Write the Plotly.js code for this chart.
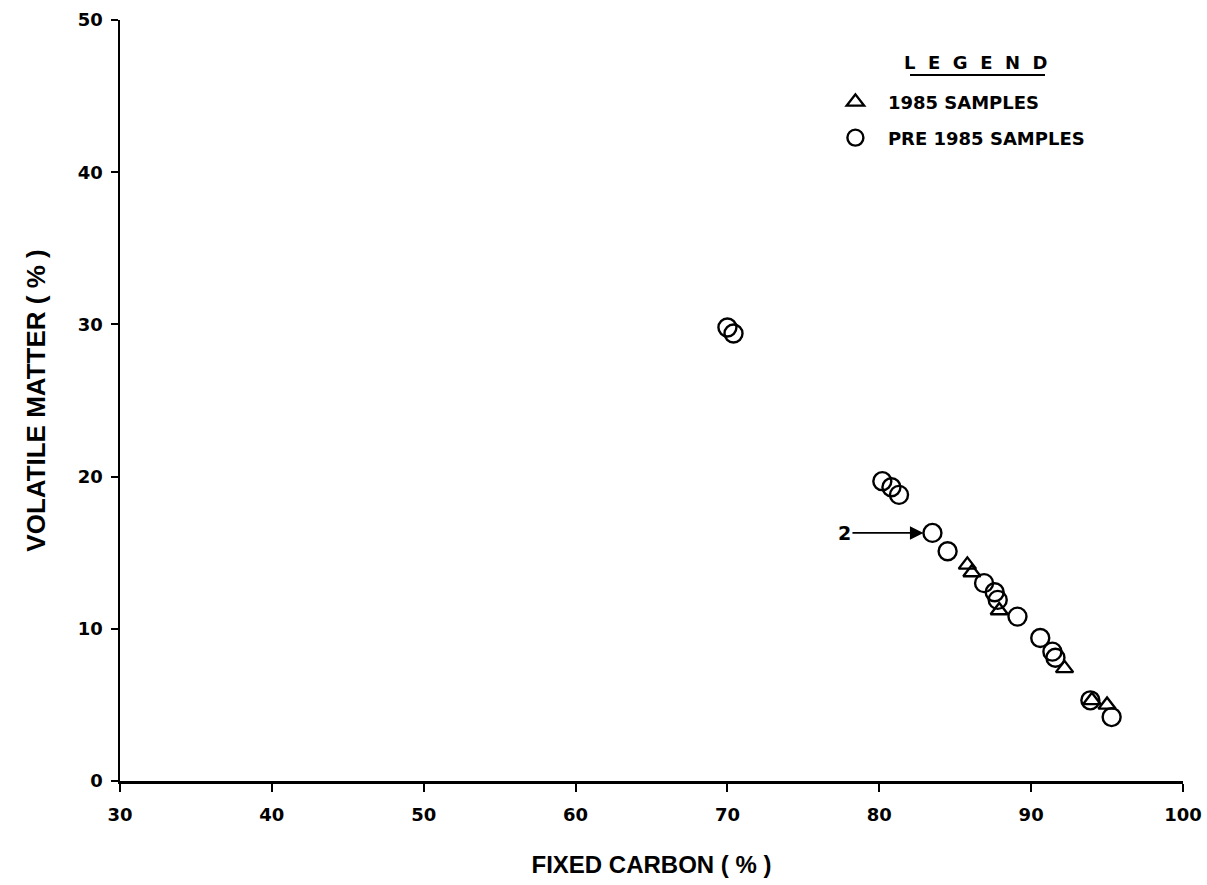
<!DOCTYPE html>
<html>
<head>
<meta charset="utf-8">
<script src="https://cdn.plot.ly/plotly-3.0.1.min.js"></script>
<style>html,body{margin:0;padding:0;background:#fff;}#chart{width:1207px;height:885px;}</style>
</head>
<body>
<div id="chart"></div>
<script>
// Pre-1985 samples (circles)
const pre1985Carbon = [70.0, 70.4, 80.2, 80.8, 81.3, 83.5, 84.5, 86.9, 87.6, 87.8, 89.1, 90.6, 91.4, 91.6, 93.9, 95.3];
const pre1985Volatile = [29.8, 29.4, 19.7, 19.3, 18.8, 16.3, 15.1, 13.0, 12.4, 11.9, 10.8, 9.4, 8.5, 8.1, 5.3, 4.2];
// 1985 samples (triangles)
const s1985Carbon = [85.8, 86.1, 87.9, 92.2, 94.0, 95.0];
const s1985Volatile = [14.2, 13.7, 11.2, 7.4, 5.3, 5.0];
// Labelled point
const labelPoint = {x: 83.5, y: 16.3, text: "2"};
const xTicks = [30, 40, 50, 60, 70, 80, 90, 100];
const yTicks = [0, 10, 20, 30, 40, 50];

const SANS = "Liberation Sans, Arial, Helvetica, sans-serif";
const WIDE = "DejaVu Sans, Verdana, sans-serif";
const nb = "\u00a0";

const traces = [
  {
    x: s1985Carbon, y: s1985Volatile, type: "scatter", mode: "markers",
    name: nb + nb + "1985 SAMPLES",
    marker: {symbol: "triangle-up-open", size: 15, color: "#000", line: {width: 2.4, color: "#000"}},
    legend: "legend"
  },
  {
    x: pre1985Carbon, y: pre1985Volatile, type: "scatter", mode: "markers",
    name: nb + nb + "PRE 1985 SAMPLES",
    marker: {symbol: "circle-open", size: 18, color: "#000", line: {width: 2.4, color: "#000"}},
    legend: "legend2"
  }
];

const legendWord = "LEGEND".split("").join(nb + nb);

const layout = {
  width: 1207, height: 885,
  margin: {l: 120, r: 24, t: 20, b: 104},
  paper_bgcolor: "#fff", plot_bgcolor: "#fff",
  font: {family: WIDE, color: "#000", size: 18, weight: "bold"},
  showlegend: true,
  xaxis: {
    range: [30, 100], tickvals: xTicks, ticktext: xTicks.map(String),
    showgrid: false, zeroline: false, showline: true, linecolor: "#000", linewidth: 2.5,
    ticks: "outside", ticklen: 8, tickwidth: 2, tickcolor: "#000", ticklabelstandoff: 8,
    tickfont: {size: 18, family: WIDE, weight: "bold"},
    title: {text: "FIXED CARBON ( % )", font: {size: 24, family: SANS, weight: "bold"}, standoff: 32}
  },
  yaxis: {
    range: [0, 50], tickvals: yTicks, ticktext: yTicks.map(String),
    showgrid: false, zeroline: false, showline: true, linecolor: "#000", linewidth: 2.5,
    ticks: "outside", ticklen: 7, tickwidth: 2, tickcolor: "#000", ticklabelstandoff: 4,
    tickfont: {size: 18, family: WIDE, weight: "bold"},
    title: {text: "VOLATILE MATTER ( % )", font: {size: 26, family: SANS, weight: "bold"}, standoff: 25}
  },
  legend: {
    x: 0.673, y: 0.892, xanchor: "left", yanchor: "middle",
    bgcolor: "rgba(0,0,0,0)", font: {size: 18, family: WIDE, weight: "bold"}, itemwidth: 30
  },
  legend2: {
    x: 0.673, y: 0.845, xanchor: "left", yanchor: "middle",
    bgcolor: "rgba(0,0,0,0)", font: {size: 18, family: WIDE, weight: "bold"}, itemwidth: 30
  },
  annotations: [
    {
      x: labelPoint.x, y: labelPoint.y, xref: "x", yref: "y",
      text: labelPoint.text, showarrow: true,
      ax: -88, ay: 0, arrowhead: 2, arrowsize: 1.5, arrowwidth: 1.8, arrowcolor: "#000",
      standoff: 9, font: {size: 19, family: WIDE, weight: "bold"}
    },
    {
      x: (976 - 120) / 1063, y: (781 - 62) / 761, xref: "paper", yref: "paper",
      xanchor: "center", yanchor: "middle",
      text: legendWord, showarrow: false,
      font: {size: 18, family: WIDE, weight: "bold"}
    }
  ],
  shapes: [
    {type: "line", xref: "paper", yref: "paper",
     x0: (910 - 120) / 1063, x1: (1045 - 120) / 1063,
     y0: (781 - 75) / 761, y1: (781 - 75) / 761,
     line: {color: "#000", width: 2}}
  ]
};

Plotly.newPlot("chart", traces, layout, {displayModeBar: false, staticPlot: true});
</script>
</body>
</html>
